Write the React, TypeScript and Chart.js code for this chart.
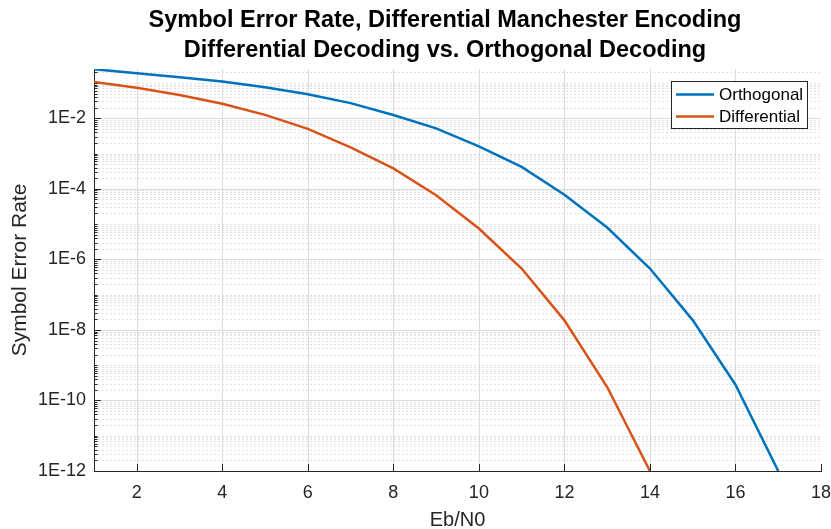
import React, { useEffect, useRef } from 'react';
import { Chart, registerables } from 'chart.js';

Chart.register(...registerables);

// ---- data ----
const ebN0 = [1, 2, 3, 4, 5, 6, 7, 8, 9, 10, 11, 12, 13, 14, 15, 16, 17];
const orthogonalSER = [
  0.247, 0.19, 0.146, 0.11, 0.076, 0.048, 0.027, 0.0124, 5.2e-3, 1.6e-3, 4.2e-4,
  6.8e-5, 8.0e-6, 5.5e-7, 1.9e-8, 2.8e-10, 1.0e-12,
];
const differentialSER = [
  0.107, 0.074, 0.046, 0.026, 0.0125, 5.0e-3, 1.5e-3, 3.8e-4, 6.6e-5, 7.5e-6, 5.5e-7,
  1.87e-8, 2.4e-10, 1.0e-12,
];
const seriesNames = ['Orthogonal', 'Differential'];
const seriesColors = ['#0072BD', '#D95319'];
const xTickValues = [2, 4, 6, 8, 10, 12, 14, 16, 18];
const yTickValues = [1e-12, 1e-10, 1e-8, 1e-6, 1e-4, 1e-2];
const yTickLabels = ['1E-12', '1E-10', '1E-8', '1E-6', '1E-4', '1E-2'];
const titleLines = [
  'Symbol Error Rate, Differential Manchester Encoding',
  'Differential Decoding vs. Orthogonal Decoding',
];
const xLabel = 'Eb/N0';
const yLabel = 'Symbol Error Rate';
const X_MIN = 1;
const X_MAX = 18;
const Y_MIN = 1e-12;
const Y_MAX = 0.25;

const FONT = "'Liberation Sans', Arial, Helvetica, sans-serif";
const AXIS_COLOR = '#262626';

function yLabelFor(v: number): string {
  for (let i = 0; i < yTickValues.length; i++) {
    if (Math.abs(Math.log10(v) - Math.log10(yTickValues[i])) < 1e-6) return yTickLabels[i];
  }
  return '';
}

function minorYValues(): { v: number; major: boolean }[] {
  const out: { v: number; major: boolean }[] = [];
  for (let e = -12; e <= 0; e++) {
    for (let m = 1; m <= 9; m++) {
      const v = m * Math.pow(10, e);
      if (v < Y_MIN * 0.999 || v > Y_MAX) continue;
      const major = m === 1 && yTickValues.some((t) => Math.abs(Math.log10(t) - e) < 1e-9);
      out.push({ v, major });
    }
  }
  return out;
}

const matlabPlugin = {
  id: 'matlabLook',
  beforeDatasetsDraw(chart: any) {
    const { ctx, chartArea: ca, scales } = chart;
    const xs = scales.x;
    const ys = scales.y;
    ctx.save();
    ctx.beginPath();
    ctx.rect(ca.left, ca.top, ca.right - ca.left, ca.bottom - ca.top);
    ctx.clip();
    ctx.lineWidth = 1;
    // minor dotted grid
    ctx.strokeStyle = '#e1e1e1';
    ctx.setLineDash([2, 2]);
    for (const { v, major } of minorYValues()) {
      if (major) continue;
      const py = Math.round(ys.getPixelForValue(v)) + 0.5;
      ctx.beginPath();
      ctx.moveTo(ca.left, py);
      ctx.lineTo(ca.right, py);
      ctx.stroke();
    }
    // major solid grid
    ctx.setLineDash([]);
    ctx.strokeStyle = '#dcdcdc';
    for (const v of yTickValues) {
      const py = Math.round(ys.getPixelForValue(v)) + 0.5;
      ctx.beginPath();
      ctx.moveTo(ca.left, py);
      ctx.lineTo(ca.right, py);
      ctx.stroke();
    }
    for (const v of xTickValues) {
      const px = Math.round(xs.getPixelForValue(v)) + 0.5;
      ctx.beginPath();
      ctx.moveTo(px, ca.top);
      ctx.lineTo(px, ca.bottom);
      ctx.stroke();
    }
    ctx.restore();
  },
  afterDatasetsDraw(chart: any) {
    const { ctx, chartArea: ca, scales } = chart;
    const xs = scales.x;
    const ys = scales.y;
    ctx.save();
    ctx.strokeStyle = AXIS_COLOR;
    ctx.lineWidth = 1;
    const x0 = ca.left;
    for (const { v, major } of minorYValues()) {
      const py = Math.round(ys.getPixelForValue(v)) + 0.5;
      ctx.beginPath();
      ctx.moveTo(x0, py);
      ctx.lineTo(x0 + (major ? 7 : 3.5), py);
      ctx.stroke();
    }
    for (const v of xTickValues) {
      const px = Math.round(xs.getPixelForValue(v)) + 0.5;
      ctx.beginPath();
      ctx.moveTo(px, ca.bottom);
      ctx.lineTo(px, ca.bottom - 7);
      ctx.stroke();
    }
    ctx.restore();
  },
  afterDraw(chart: any) {
    const { ctx } = chart;
    ctx.save();
    // title
    ctx.fillStyle = '#000';
    ctx.font = `bold 23.5px ${FONT}`;
    ctx.textAlign = 'center';
    ctx.textBaseline = 'alphabetic';
    ctx.fillText(titleLines[0], 445, 27);
    ctx.fillText(titleLines[1], 445, 57);
    // legend
    const bx = 671.5;
    const by = 81.5;
    const bw = 136;
    const bh = 47;
    ctx.fillStyle = '#fff';
    ctx.fillRect(bx, by, bw, bh);
    ctx.strokeStyle = AXIS_COLOR;
    ctx.lineWidth = 1;
    ctx.strokeRect(bx, by, bw, bh);
    const rowsY = [94.5, 116.5];
    ctx.font = `17px ${FONT}`;
    ctx.textAlign = 'left';
    ctx.textBaseline = 'middle';
    chart.data.datasets.forEach((ds: any, i: number) => {
      const y = rowsY[i];
      ctx.strokeStyle = ds.borderColor;
      ctx.lineWidth = 2.5;
      ctx.beginPath();
      ctx.moveTo(676, y);
      ctx.lineTo(714, y);
      ctx.stroke();
      ctx.fillStyle = '#000';
      ctx.fillText(ds.label, 719, y + 1);
    });
    ctx.restore();
  },
};

export default function App() {
  const ref = useRef<HTMLCanvasElement>(null);
  useEffect(() => {
    if (!ref.current) return;
    Chart.defaults.font.family = FONT;
    const chart = new Chart(ref.current, {
      type: 'line',
      data: {
        datasets: [
          {
            label: seriesNames[0],
            data: ebN0.slice(0, orthogonalSER.length).map((x, i) => ({ x, y: orthogonalSER[i] })),
            borderColor: seriesColors[0],
            backgroundColor: seriesColors[0],
            borderWidth: 2.5,
            pointRadius: 0,
            tension: 0,
          },
          {
            label: seriesNames[1],
            data: ebN0.slice(0, differentialSER.length).map((x, i) => ({ x, y: differentialSER[i] })),
            borderColor: seriesColors[1],
            backgroundColor: seriesColors[1],
            borderWidth: 2.5,
            pointRadius: 0,
            tension: 0,
          },
        ],
      },
      options: {
        animation: false,
        responsive: false,
        devicePixelRatio: 1,
        layout: { padding: { top: 69, right: 10, bottom: 0, left: 0 } },
        plugins: {
          legend: { display: false },
          title: { display: false },
          tooltip: { enabled: false },
        },
        scales: {
          x: {
            type: 'linear',
            min: X_MIN,
            max: X_MAX,
            afterBuildTicks: (s: any) => {
              s.ticks = xTickValues.map((v) => ({ value: v }));
            },
            afterFit: (s: any) => {
              s.height = 58;
              s.paddingLeft = 0;
              s.paddingRight = 0;
            },
            grid: { display: false, drawTicks: false },
            border: { display: true, color: AXIS_COLOR, width: 1 },
            ticks: {
              autoSkip: false,
              maxRotation: 0,
              padding: 11,
              color: AXIS_COLOR,
              font: { size: 18, family: FONT },
              callback: (v: any) => String(v),
            },
            title: {
              display: true,
              text: xLabel,
              color: AXIS_COLOR,
              font: { size: 20, family: FONT, lineHeight: 0.9 },
              padding: { top: 0, bottom: 0 },
            },
          },
          y: {
            type: 'logarithmic',
            min: Y_MIN,
            max: Y_MAX,
            afterBuildTicks: (s: any) => {
              s.ticks = yTickValues.map((v) => ({ value: v }));
            },
            afterFit: (s: any) => {
              s.width = 94;
              s.paddingTop = 0;
              s.paddingBottom = 0;
            },
            grid: { display: false, drawTicks: false },
            border: { display: true, color: AXIS_COLOR, width: 1 },
            ticks: {
              autoSkip: false,
              padding: 8,
              color: AXIS_COLOR,
              font: { size: 18, family: FONT },
              callback: (v: any) => yLabelFor(Number(v)),
            },
            title: {
              display: true,
              text: yLabel,
              color: AXIS_COLOR,
              font: { size: 21, family: FONT },
              padding: { top: 8, bottom: 0 },
            },
          },
        },
      } as any,
      plugins: [matlabPlugin],
    });
    return () => chart.destroy();
  }, []);
  return (
    <div style={{ position: 'absolute', left: 0, top: 0, width: 831, height: 529, background: '#fff' }}>
      <canvas ref={ref} width={831} height={529} style={{ display: 'block', width: 831, height: 529 }} />
    </div>
  );
}
